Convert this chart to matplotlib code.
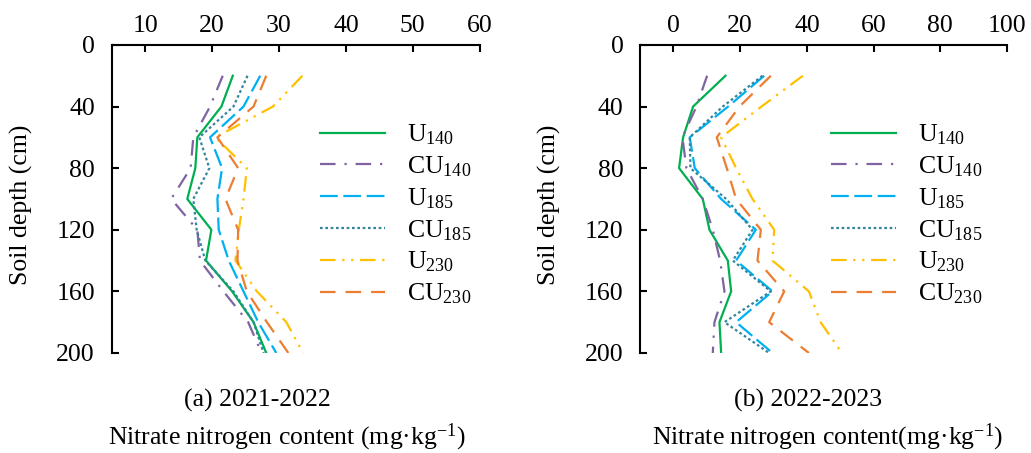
import matplotlib
matplotlib.use("Agg")
import matplotlib.pyplot as plt
import numpy as np

plt.rcParams['font.family'] = ['Liberation Serif', 'DejaVu Serif']
plt.rcParams['mathtext.fontset'] = 'custom'
plt.rcParams['mathtext.rm'] = 'Liberation Serif'
plt.rcParams['mathtext.it'] = 'Liberation Serif:italic'

# soil depth (cm)
depth = [20, 40, 60, 80, 100, 120, 140, 160, 180, 200]

# (a) 2021-2022, nitrate nitrogen (mg/kg)
a_U140 = [23.1, 21.4, 17.8, 17.5, 16.3, 19.9, 19.1, 23.0, 26.2, 28.1]
a_CU140 = [21.6, 19.7, 17.2, 16.8, 13.9, 17.8, 18.2, 21.7, 25.4, 27.4]
a_U185 = [27.2, 24.7, 19.7, 21.5, 20.8, 21.0, 22.5, 24.7, 26.9, 29.6]
a_CU185 = [25.3, 23.2, 18.1, 19.6, 17.2, 17.7, 19.0, 23.2, 26.2, 27.7]
a_U230 = [33.5, 29.1, 20.5, 25.2, 24.7, 24.0, 23.5, 26.7, 31.1, 33.6]
a_CU230 = [28.1, 26.2, 20.8, 23.9, 22.0, 23.9, 23.8, 25.2, 28.2, 31.4]

# (b) 2022-2023
b_U140 = [15.6, 5.9, 2.9, 1.7, 8.8, 10.8, 16.3, 17.3, 13.8, 14.3]
b_CU140 = [10.1, 6.9, 2.7, 3.9, 8.8, 11.8, 14.0, 15.3, 12.3, 11.8]
b_U185 = [27.2, 16.4, 4.9, 6.4, 14.3, 24.7, 18.8, 29.7, 18.8, 29.7]
b_CU185 = [26.7, 14.8, 4.9, 5.1, 15.8, 23.7, 17.8, 29.2, 15.3, 28.7]
b_U230 = [38.8, 26.4, 14.3, 18.8, 23.7, 30.2, 29.7, 40.6, 44.1, 50.5]
b_CU230 = [29.2, 19.8, 13.0, 16.0, 18.8, 26.2, 25.2, 33.2, 28.7, 40.6]

labels = ['U$_{140}$', 'CU$_{140}$', 'U$_{185}$', 'CU$_{185}$', 'U$_{230}$', 'CU$_{230}$']
colors = ['#00B050', '#8064A2', '#00B0F0', '#31859C', '#FFC000', '#ED7D31']
styles = ['-', (0, (7, 4, 1, 4)), (0, (8, 2.5)), (0, (1.2, 1.2)), (0, (7, 3, 1, 3, 1, 3)), (0, (7, 4.5))]

fs = 18.5
fig = plt.figure(figsize=(10.31, 4.53), dpi=100)
ax1 = fig.add_axes([0.1083, 0.2208, 0.357, 0.680])
ax2 = fig.add_axes([0.6208, 0.2208, 0.356, 0.680])


def draw(ax, series, xlim, xticks, legend_x):
    for vals, lab, c, ls in zip(series, labels, colors, styles):
        ax.plot(vals, depth, color=c, linestyle=ls, lw=1.6, label=lab)
    ax.set_xlim(*xlim)
    ax.set_ylim(200, 0)
    ax.set_xticks(xticks)
    ax.set_yticks([0, 40, 80, 120, 160, 200])
    ax.xaxis.tick_top()
    ax.spines['right'].set_visible(False)
    ax.spines['bottom'].set_visible(False)
    ax.spines['top'].set_linewidth(1.5)
    ax.spines['left'].set_linewidth(1.5)
    ax.tick_params(direction='in', length=5, width=1.5, labelsize=fs)
    ax.tick_params(axis='x', pad=6)
    ax.tick_params(axis='y', pad=12)
    ax.set_ylabel('Soil depth (cm)', fontsize=fs)
    ax.yaxis.set_label_coords(-0.214, 0.48)
    ax.legend(loc='center left', bbox_to_anchor=(legend_x, 0.45), frameon=False,
              fontsize=fs, handlelength=2.53, handletextpad=0.85,
              labelspacing=0.28, borderaxespad=0, borderpad=0)


draw(ax1, [a_U140, a_CU140, a_U185, a_CU185, a_U230, a_CU230],
     (5, 60), [10, 20, 30, 40, 50, 60], 0.566)
draw(ax2, [b_U140, b_CU140, b_U185, b_CU185, b_U230, b_CU230],
     (-10, 100), [0, 20, 40, 60, 80, 100], 0.52)

fig.text(257 / 1031, 1 - 400 / 453, '(a) 2021-2022', fontsize=fs, ha='center', va='center')
fig.text(287 / 1031, 1 - 437 / 453, 'Nitrate nitrogen content (mg·kg$^{-1}$)',
         fontsize=fs, ha='center', va='center')
fig.text(808 / 1031, 1 - 400 / 453, '(b) 2022-2023', fontsize=fs, ha='center', va='center')
fig.text(828 / 1031, 1 - 437 / 453, 'Nitrate nitrogen content(mg·kg$^{-1}$)',
         fontsize=fs, ha='center', va='center')

fig.savefig('out.png', dpi=100)
